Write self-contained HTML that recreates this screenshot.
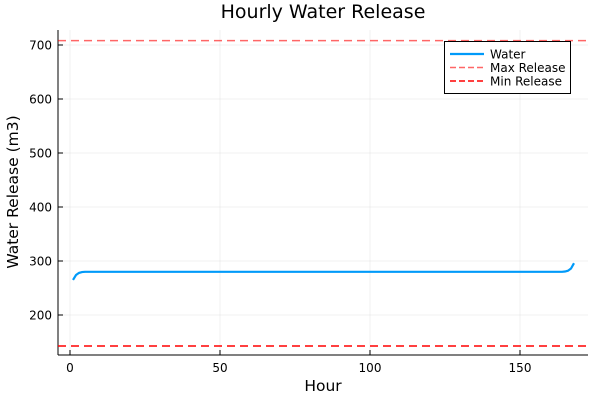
<!DOCTYPE html>
<html><head><meta charset="utf-8"><style>
body{margin:0;background:#fff;font-family:"DejaVu Sans","Liberation Sans",sans-serif}
svg text{font-family:"DejaVu Sans","Liberation Sans",sans-serif}
</style></head><body>
<svg id="c" width="600" height="400"></svg>
<script>
const hours=[];for(let h=1;h<=168;h++)hours.push(h);
const water=[265,274,278,279.5,280,
280,280,280,280,280,280,280,280,280,280,280,280,280,280,280,280,280,280,280,280,
280,280,280,280,280,280,280,280,280,280,280,280,280,280,280,280,280,280,280,280,
280,280,280,280,280,280,280,280,280,280,280,280,280,280,280,280,280,280,280,280,
280,280,280,280,280,280,280,280,280,280,280,280,280,280,280,280,280,280,280,280,
280,280,280,280,280,280,280,280,280,280,280,280,280,280,280,280,280,280,280,280,
280,280,280,280,280,280,280,280,280,280,280,280,280,280,280,280,280,280,280,280,
280,280,280,280,280,280,280,280,280,280,280,280,280,280,280,280,280,280,280,280,
280,280,280,280,280,280,280,280,280,280,280,280,280,280,280,280,280,280,280,
280.5,282,286,296];
const maxRelease=[708];
const minRelease=[142.5];
const xTicks=[0,50,100,150];
const yTicks=[200,300,400,500,600,700];
const NS="http://www.w3.org/2000/svg";
const svg=document.getElementById('c');
const L=58,R=588,T=30,B=355;
const xs=v=>70+(v-0)*3;
const ys=v=>315-(v-200)*0.54;
function mk(t,a,p){const e=document.createElementNS(NS,t);for(const k in a)e.setAttribute(k,a[k]);(p||svg).appendChild(e);return e;}
xTicks.forEach(v=>{const g=mk('line',{x1:xs(v),x2:xs(v),y1:T,y2:B,stroke:'#000','stroke-opacity':0.1,'stroke-width':0.5});

});
yTicks.forEach(v=>{const g=mk('line',{x1:L,x2:R,y1:ys(v),y2:ys(v),stroke:'#000','stroke-opacity':0.1,'stroke-width':0.5});

});
const ax=mk('line',{x1:L,x2:R,y1:B,y2:B,stroke:'#000','stroke-width':1});


const ay=mk('line',{x1:L,x2:L,y1:T,y2:B,stroke:'#000','stroke-width':1});


xTicks.forEach(v=>{mk('line',{x1:xs(v),x2:xs(v),y1:B,y2:B-5,stroke:'#000'});
const t=mk('text',{x:xs(v),y:B+17,'text-anchor':'middle','font-size':12});t.textContent=v;

});
yTicks.forEach(v=>{mk('line',{x1:L,x2:L+5,y1:ys(v),y2:ys(v),stroke:'#000'});
const t=mk('text',{x:L-6,y:ys(v)+4.5,'text-anchor':'end','font-size':12});t.textContent=v;

});
const mx=mk('line',{x1:L,x2:R,y1:ys(maxRelease[0]),y2:ys(maxRelease[0]),stroke:'#ff0000','stroke-opacity':0.6,'stroke-width':1.5,'stroke-dasharray':'8 5'});


const mn=mk('line',{x1:L,x2:R,y1:ys(minRelease[0]),y2:ys(minRelease[0]),stroke:'#ff0000','stroke-width':1.5,'stroke-dasharray':'8 5'});


const d=water.map((v,i)=>(i?'L':'M')+xs(hours[i])+','+ys(v)).join('');
const p=mk('path',{d:d,fill:'none',stroke:'#009af9','stroke-width':2.2});


const ti=mk('text',{x:323,y:18,'text-anchor':'middle','font-size':19});ti.textContent='Hourly Water Release';


const xl=mk('text',{x:323,y:391,'text-anchor':'middle','font-size':15.5});xl.textContent='Hour';


const yl=mk('text',{x:18,y:192,'text-anchor':'middle','font-size':15.5,transform:'rotate(-90 18 192)'});yl.textContent='Water Release (m3)';


const lg=mk('g',{});


mk('rect',{x:444.5,y:41.5,width:126,height:52,fill:'#fff',stroke:'#000','stroke-width':1},lg);
const items=[['Water','#009af9',null,1],['Max Release','#ff0000','6 3',0.6],['Min Release','#ff0000','6 3',1]];
items.forEach((it,i)=>{const y=54+i*13.5;
mk('line',{x1:450,x2:484,y1:y,y2:y,stroke:it[1],'stroke-width':it[2]?1.5:2.2,'stroke-dasharray':it[2]||'none','stroke-opacity':it[3]},lg);
const t=mk('text',{x:490,y:y+4.5,'font-size':12},lg);t.textContent=it[0];

});
</script>
</body></html>
